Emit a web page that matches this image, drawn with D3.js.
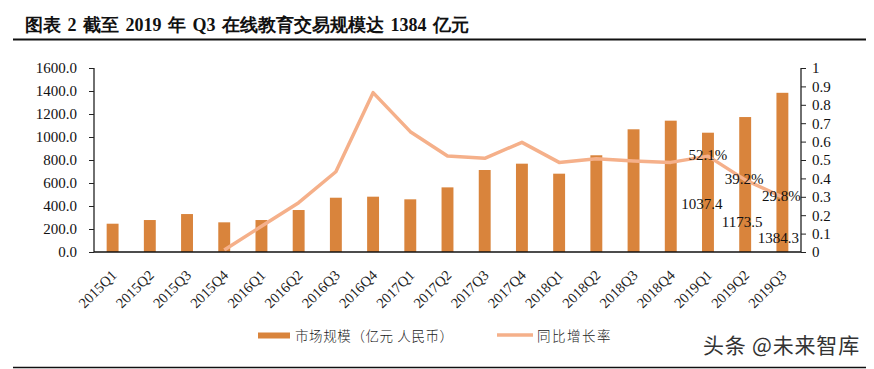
<!DOCTYPE html>
<html><head><meta charset="utf-8">
<script src="https://cdn.jsdelivr.net/npm/d3@7/dist/d3.min.js"></script>
<style>body{margin:0;background:#fff}svg{display:block}</style>
</head><body><svg id="c" width="874" height="369"></svg>
<script>
const categories = ["2015Q1","2015Q2","2015Q3","2015Q4","2016Q1","2016Q2","2016Q3","2016Q4","2017Q1","2017Q2","2017Q3","2017Q4","2018Q1","2018Q2","2018Q3","2018Q4","2019Q1","2019Q2","2019Q3"];
const marketSize = [246,278,330,258,278,365,472,481,458,562,713,768,681,841,1067,1142,1037.4,1173.5,1384.3];
const growthRate = [null,null,null,0.011,0.14,0.268,0.436,0.866,0.654,0.522,0.509,0.596,0.487,0.507,0.495,0.487,0.521,0.392,0.298];
const leftTicks = [0,200,400,600,800,1000,1200,1400,1600];
const rightTicks = [0,0.1,0.2,0.3,0.4,0.5,0.6,0.7,0.8,0.9,1];
const barLabels = [{i:16,text:"1037.4"},{i:17,text:"1173.5"},{i:18,text:"1384.3"}];
const rateLabels = [{i:16,text:"52.1%"},{i:17,text:"39.2%"},{i:18,text:"29.8%"}];
const titleText = "图表 2 截至 2019 年 Q3 在线教育交易规模达 1384 亿元";
const legendBar = "市场规模（亿元 人民币）";
const legendLine = "同比增长率";
const watermark = "头条 @未来智库";

const svg = d3.select("#c");
const L = 94, R = 801, T = 68, B = 252;
const serif = "'Liberation Serif','Times New Roman',serif";
const barColor = "#D9843C", lineColor = "#F5B08A";

svg.append("text").attr("x",25).attr("y",30.5).attr("font-family",serif).attr("font-weight","bold")
  .attr("font-size",18).attr("fill","#111").attr("word-spacing",2).text(titleText);
svg.append("line").attr("x1",13).attr("x2",866).attr("y1",39.5).attr("y2",39.5).attr("stroke","#111").attr("stroke-width",2);
svg.append("line").attr("x1",13).attr("x2",866).attr("y1",367.5).attr("y2",367.5).attr("stroke","#111").attr("stroke-width",1.5);

const x = d3.scaleBand().domain(categories).range([L,R]).paddingInner(0.68).paddingOuter(0.34);
const yL = d3.scaleLinear().domain([0,1600]).range([B,T]);
const yR = d3.scaleLinear().domain([0,1]).range([B,T]);
const cx = d => x(d)+x.bandwidth()/2;

svg.append("g").selectAll("rect").data(categories).join("rect")
  .attr("x",d=>x(d)).attr("width",x.bandwidth())
  .attr("y",(d,i)=>yL(marketSize[i])).attr("height",(d,i)=>B-yL(marketSize[i]))
  .attr("fill",barColor);

const line = d3.line().defined(d=>d.v!=null).x(d=>cx(d.c)).y(d=>yR(d.v));
svg.append("path").datum(categories.map((c,i)=>({c,v:growthRate[i]})))
  .attr("d",line).attr("fill","none").attr("stroke",lineColor).attr("stroke-width",3.5).attr("stroke-linejoin","round");

const gl = svg.append("g").attr("transform",`translate(${L},0)`)
  .call(d3.axisLeft(yL).tickValues(leftTicks).tickFormat(d3.format(".1f")).tickSize(5).tickPadding(12));
const gr = svg.append("g").attr("transform",`translate(${R},0)`)
  .call(d3.axisRight(yR).tickValues(rightTicks).tickFormat(d=>d3.format("")(+d.toFixed(1))).tickSize(5).tickPadding(6));
[gl,gr].forEach(g=>{
  g.select(".domain").attr("stroke","#222").attr("stroke-width",1.3).attr("d",`M0,${T}V${B}`);
  g.selectAll(".tick line").attr("stroke","#222");
  g.selectAll("text").attr("font-family",serif).attr("font-size",15).attr("fill","#111");
});
const gx = svg.append("g").attr("transform",`translate(0,${B})`)
  .call(d3.axisBottom(x).tickSize(0).tickPadding(0));
gx.select(".domain").attr("stroke","#111").attr("stroke-width",1.5).attr("d",`M${L},0H${R}`);
gx.selectAll("text").attr("font-family",serif).attr("font-size",14.5).attr("fill","#222")
  .attr("text-anchor","end").attr("dy",0)
  .attr("transform","translate(5,24) rotate(-45)");

svg.append("g").selectAll("text").data(barLabels).join("text")
  .attr("x",d=>cx(categories[d.i])).attr("y",(d,i)=>[209,227,243][i])
  .attr("dx",(d,i)=>[-6,-3,-4][i])
  .attr("text-anchor","middle").attr("font-family",serif).attr("font-size",15).attr("fill","#111").text(d=>d.text);
svg.append("g").selectAll("text").data(rateLabels).join("text")
  .attr("x",d=>cx(categories[d.i])).attr("y",d=>yR(growthRate[d.i])+4)
  .attr("dx",(d,i)=>[0,-1,-1][i])
  .attr("text-anchor","middle").attr("font-family",serif).attr("font-size",15).attr("fill","#111").text(d=>d.text);

const cjk = "'Noto Sans CJK SC','Noto Sans',sans-serif";
svg.append("rect").attr("x",258).attr("y",332.5).attr("width",32).attr("height",6).attr("fill",barColor);
svg.append("text").attr("x",295).attr("y",341).attr("font-family",cjk).attr("font-size",13.5).attr("letter-spacing",0.6).attr("fill","#222").attr("font-weight",300).text(legendBar);
svg.append("line").attr("x1",497).attr("x2",533).attr("y1",335).attr("y2",335).attr("stroke",lineColor).attr("stroke-width",3.5);
svg.append("text").attr("x",537).attr("y",341).attr("font-family",cjk).attr("font-size",13.5).attr("letter-spacing",1.5).attr("fill","#222").attr("font-weight",300).text(legendLine);
svg.append("text").attr("x",703).attr("y",353).attr("font-family",cjk).attr("font-size",21).attr("letter-spacing",0.8).attr("fill","#333").text(watermark);
</script></body></html>
